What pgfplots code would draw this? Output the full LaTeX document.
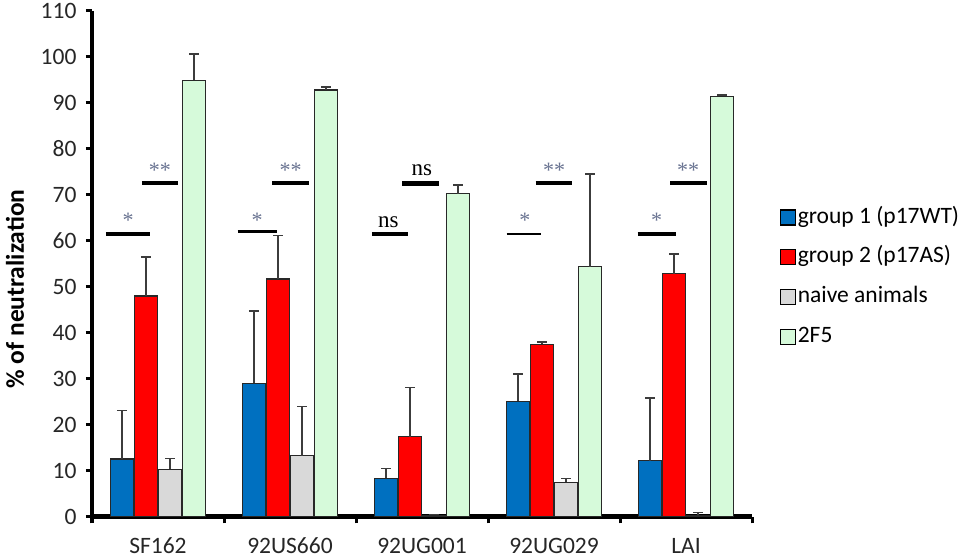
\documentclass[border=0pt]{standalone}
\usepackage{pgfplots}
\pgfplotsset{compat=1.18}
\usepackage{fontspec}
\setmainfont{Carlito}
\newfontfamily\timesf{Liberation Serif}
\definecolor{cblue}{RGB}{0,112,192}
\definecolor{cred}{RGB}{255,0,0}
\definecolor{cgray}{RGB}{217,217,217}
\definecolor{cgreen}{RGB}{214,250,218}
\definecolor{cstar}{RGB}{105,115,145}
\definecolor{cedge}{RGB}{40,40,40}
\definecolor{cerr}{RGB}{60,60,60}
\pgfplotsset{
  myleg/.style={legend image code/.code={\draw[##1, line width=1.3bp, draw=black] (0bp,-7.5bp) rectangle (15bp,7.5bp);}},
  mybar/.style={draw=cedge, line width=1.2bp,
    /pgfplots/error bars/y dir=plus, /pgfplots/error bars/y explicit,
    /pgfplots/error bars/error bar style={line width=1.4bp, color=cerr},
    /pgfplots/error bars/error mark options={line width=1.4bp, color=cerr, mark size=5bp, rotate=90}},
}
\pgfplotstableread{
x  b   be    r    re    g    ge    n    ne
0  12.5 10.6 48.0 8.5  10.3 2.3  94.9 5.7
1  29.0 15.7 51.7 9.4  13.2 10.7 92.8 0.7
2  8.3  2.1  17.4 10.7 0.3  0.2  70.2 1.9
3  25.1 5.9  37.5 0.5  7.4  0.9  54.4 20.1
4  12.1 13.7 52.8 4.3  0.3  0.6  91.4 0.3
}\datatab
\begin{document}
\begin{tikzpicture}
\path[use as bounding box] (0,0) rectangle (963bp,558bp);
\begin{axis}[
  at={(92bp,41.5bp)}, anchor=south west,
  scale only axis, width=660bp, height=505.5bp,
  xmin=-0.5, xmax=4.5, ymin=0, ymax=110,
  clip=false,
  axis lines=left,
  axis line style={-, line width=4bp, black},
  ytick={0,10,...,110},
  xtick={0,1,2,3,4},
  xticklabels={SF162,92US660,92UG001,92UG029,LAI},
  minor xtick={-0.5,0.5,1.5,2.5,3.5,4.5},
  tick align=outside,
  major tick length=6bp,
  minor tick length=7bp,
  major x tick style={draw=none},
  minor x tick style={line width=3bp, black},
  y tick style={line width=3bp, black},
  /pgf/number format/assume math mode=true,
  ticklabel style={font=\fontsize{23.5bp}{25bp}\selectfont, text=black!85},
  yticklabel style={xshift=-6bp},
  xticklabel style={anchor=base, yshift=-31bp},
  ylabel={\bfseries \% of neutralization},
  every axis y label/.style={at={(axis description cs:-0.1167,0.45)}, rotate=90, anchor=center, font=\fontsize{25.5bp}{27bp}\selectfont},
  ybar, bar width=23.5bp,
  legend style={draw=none, fill=none, at={(axis description cs:1.0414,0.4734)}, anchor=west,
    font=\fontsize{23.5bp}{25bp}\selectfont, row sep=14.7bp, inner sep=0pt,
    nodes={inner sep=2bp, text height=16bp, text depth=5bp, font=\fontsize{23.5bp}{25bp}\selectfont}},
  legend cell align=left,
]
\addplot[fill=cblue, bar shift=-36bp, mybar, myleg] table[x=x, y=b, y error=be] {\datatab};
\addlegendentry{group 1 (p17WT)}
\addplot[fill=cred, bar shift=-12bp, mybar, myleg] table[x=x, y=r, y error=re] {\datatab};
\addlegendentry{group 2 (p17AS)}
\addplot[fill=cgray, bar shift=12bp, mybar, myleg] table[x=x, y=g, y error=ge] {\datatab};
\addlegendentry{naive animals}
\addplot[fill=cgreen, bar shift=36bp, mybar, myleg] table[x=x, y=n, y error=ne] {\datatab};
\addlegendentry{2F5}
% significance bars
\draw[line width=4.7bp] (axis cs:-0.394,61.5) -- (axis cs:-0.061,61.5);
\draw[line width=4.7bp] (axis cs:-0.123,72.6) -- (axis cs:0.154,72.6);
\draw[line width=3.7bp] (axis cs:0.604,62.0) -- (axis cs:0.898,62.0);
\draw[line width=4.7bp] (axis cs:0.866,72.6) -- (axis cs:1.144,72.6);
\draw[line width=4.2bp] (axis cs:1.621,61.5) -- (axis cs:1.896,61.5);
\draw[line width=4.7bp] (axis cs:1.852,72.5) -- (axis cs:2.130,72.5);
\draw[line width=2.7bp] (axis cs:2.641,61.5) -- (axis cs:2.899,61.5);
\draw[line width=4.7bp] (axis cs:2.861,72.6) -- (axis cs:3.139,72.6);
\draw[line width=4.7bp] (axis cs:3.634,61.5) -- (axis cs:3.924,61.5);
\draw[line width=4.7bp] (axis cs:3.879,72.6) -- (axis cs:4.157,72.6);
% labels
\tikzset{star/.style={anchor=base, inner sep=0pt, text=cstar, font=\timesf\fontsize{22bp}{22bp}\selectfont},
         nsl/.style={anchor=base, inner sep=0pt, text=black, font=\timesf\fontsize{23bp}{23bp}\selectfont}}
\node[star] at (axis cs:-0.227,62.8) {*};
\node[star] at (axis cs:0.015,73.7) {**};
\node[star] at (axis cs:0.75,62.8) {*};
\node[star] at (axis cs:1.005,73.7) {**};
\node[nsl] at (axis cs:1.745,62.9) {ns};
\node[nsl] at (axis cs:1.998,74.3) {ns};
\node[star] at (axis cs:2.780,62.9) {*};
\node[star] at (axis cs:3.0,73.7) {**};
\node[star] at (axis cs:3.778,62.9) {*};
\node[star] at (axis cs:4.017,73.7) {**};
\end{axis}
\end{tikzpicture}
\end{document}
